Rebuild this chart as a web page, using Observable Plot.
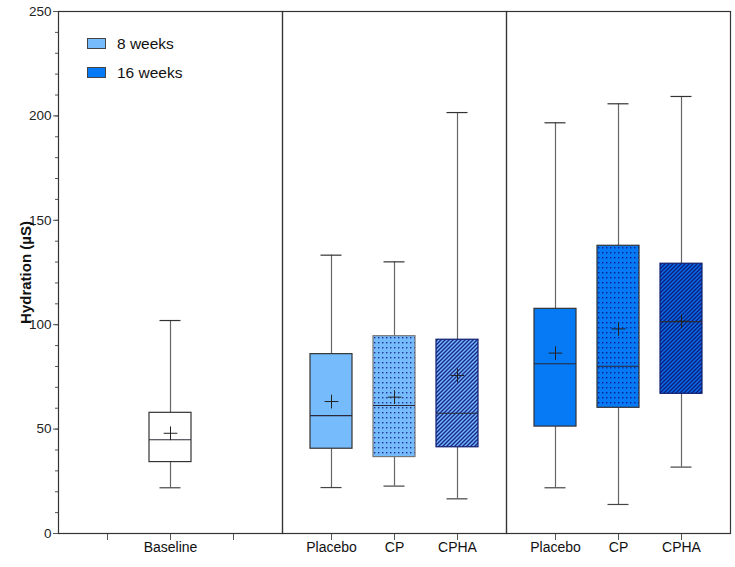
<!DOCTYPE html>
<html><head><meta charset="utf-8">
<script src="https://cdn.jsdelivr.net/npm/d3@7"></script>
<script src="https://cdn.jsdelivr.net/npm/@observablehq/plot@0.6"></script>
<style>
body{margin:0;background:#fff;font-family:"Liberation Sans",Arial,sans-serif}
#wrap{position:relative;width:735px;height:567px}
.legend{position:absolute;left:87px;top:29px;font-size:15.5px;color:#111}
.legend .item{display:flex;align-items:center;height:29px}
.legend .sw{width:17px;height:9px;border:1px solid #444;margin-right:11px}
g[aria-label="y-axis label"] text{font-weight:bold;font-size:15px;fill:#111}
</style></head><body><div id="wrap"></div>
<script>
const groups = ["Baseline", "8 weeks", "16 weeks"];
const slots = ["left", "middle", "right"];
const boxGroup = ["Baseline", "8 weeks", "8 weeks", "8 weeks", "16 weeks", "16 weeks", "16 weeks"];
const boxSlot = ["middle", "left", "middle", "right", "left", "middle", "right"];
const boxTreatment = ["Baseline", "Placebo", "CP", "CPHA", "Placebo", "CP", "CPHA"];
const minV = [21.9, 22.0, 22.7, 16.6, 21.9, 13.9, 31.8];
const q1V = [34.2, 40.6, 36.6, 41.3, 51.2, 60.2, 66.9];
const medV = [44.9, 56.5, 61.3, 57.6, 81.3, 80.1, 101.5];
const q3V = [57.8, 85.9, 94.5, 92.8, 107.6, 137.8, 129.2];
const maxV = [102.0, 133.3, 130.1, 201.6, 196.7, 205.8, 209.3];
const meanV = [48.0, 63.2, 65.3, 75.7, 86.4, 98.0, 101.7];
const majorTicks = [0, 50, 100, 150, 200, 250];
const minorTicks = d3.range(0, 251, 10);
const legendLabels = ["8 weeks", "16 weeks"];

const boxes = boxTreatment.map((t, i) => ({
  group: boxGroup[i], slot: boxSlot[i], treatment: t,
  min: minV[i], q1: q1V[i], med: medV[i], q3: q3V[i], max: maxV[i], mean: meanV[i]
}));

const base = {"8 weeks": "#76bcfc", "16 weeks": "#0679f4"};
function fillFor(d) {
  if (d.group === "Baseline") return "white";
  const k = d.group === "8 weeks" ? "8" : "16";
  if (d.treatment === "CP") return `url(#dots${k})`;
  if (d.treatment === "CPHA") return `url(#hatch${k})`;
  return base[d.group];
}
function strokeFor(d) {
  if (d.treatment === "CPHA") return "#101c6e";
  if (d.treatment === "CP" && d.group === "8 weeks") return "#777";
  return "#333";
}

const svg = Plot.plot({
  width: 735, height: 567,
  marginLeft: 57, marginRight: 5, marginTop: 11, marginBottom: 34,
  style: {fontFamily: "'Liberation Sans', Arial, sans-serif", fontSize: "13.5px", color: "#222", background: "white"},
  fx: {domain: groups, padding: 0, axis: null},
  x: {domain: slots, paddingInner: 0.34, paddingOuter: 0.44, axis: null},
  y: {domain: [0, 250], axis: null},
  color: {type: "identity"},
  marks: [
    Plot.axisY(minorTicks, {tickSize: 3, tickFormat: () => "", label: null, stroke: "#555"}),
    Plot.axisY(majorTicks, {tickSize: 5, tickPadding: 2, label: "Hydration (µS)", labelAnchor: "center", labelArrow: "none", labelOffset: 38, stroke: "#555", fill: "#222"}),
    Plot.axisX({tickSize: 7, tickFormat: () => "", label: null, stroke: "#555"}),
    Plot.ruleX(boxes, {fx: "group", x: "slot", y1: "min", y2: "q1", stroke: "#666", strokeWidth: 1.2}),
    Plot.ruleX(boxes, {fx: "group", x: "slot", y1: "q3", y2: "max", stroke: "#666", strokeWidth: 1.2}),
    Plot.barY(boxes, {fx: "group", x: "slot", y1: "q1", y2: "q3", fill: fillFor, stroke: strokeFor, strokeWidth: 1.2}),
    Plot.tickY(boxes, {fx: "group", x: "slot", y: "med", stroke: "#2a2a3a", strokeWidth: 1.2}),
    Plot.tickY(boxes, {fx: "group", x: "slot", y: "max", stroke: "#333", strokeWidth: 1.2, insetLeft: 10.5, insetRight: 10.5}),
    Plot.tickY(boxes, {fx: "group", x: "slot", y: "min", stroke: "#444", strokeWidth: 1.2, insetLeft: 10.5, insetRight: 10.5}),
    Plot.dot(boxes, {fx: "group", x: "slot", y: "mean", symbol: "plus", r: 4.5, stroke: "#222", strokeWidth: 1}),
    Plot.text(boxes, {fx: "group", x: "slot", text: "treatment", frameAnchor: "bottom", dy: 18, fill: "#111", fontSize: 14}),
    Plot.frame({stroke: "#333", strokeWidth: 1.2})
  ]
});

const defs = document.createElementNS("http://www.w3.org/2000/svg", "defs");
defs.innerHTML = `
<pattern id="dots8" patternUnits="userSpaceOnUse" width="4" height="5">
  <rect width="4" height="5" fill="#76bcfc"/><rect x="1" y="2" width="1.4" height="1.4" fill="#1f2f9a"/>
</pattern>
<pattern id="dots16" patternUnits="userSpaceOnUse" width="4" height="5">
  <rect width="4" height="5" fill="#0679f4"/><rect x="1" y="2" width="1.4" height="1.4" fill="#0a1f8f"/>
</pattern>
<pattern id="hatch8" patternUnits="userSpaceOnUse" width="4" height="4">
  <rect width="4" height="4" fill="#76bcfc"/>
  <path d="M-1,1 l2,-2 M0,4 l4,-4 M3,5 l2,-2" stroke="#1b2a8e" stroke-width="1.5"/>
</pattern>
<pattern id="hatch16" patternUnits="userSpaceOnUse" width="4" height="4">
  <rect width="4" height="4" fill="#0a6fe8"/>
  <path d="M-1,1 l2,-2 M0,4 l4,-4 M3,5 l2,-2" stroke="#0b1f80" stroke-width="1.5"/>
</pattern>`;
svg.prepend(defs);

const wrap = document.getElementById("wrap");
wrap.appendChild(svg);
const legend = document.createElement("div");
legend.className = "legend";
legendLabels.forEach(l => {
  const it = document.createElement("div"); it.className = "item";
  const sw = document.createElement("div"); sw.className = "sw"; sw.style.background = base[l];
  const tx = document.createElement("span"); tx.textContent = l;
  it.appendChild(sw); it.appendChild(tx); legend.appendChild(it);
});
wrap.appendChild(legend);
</script></body></html>
